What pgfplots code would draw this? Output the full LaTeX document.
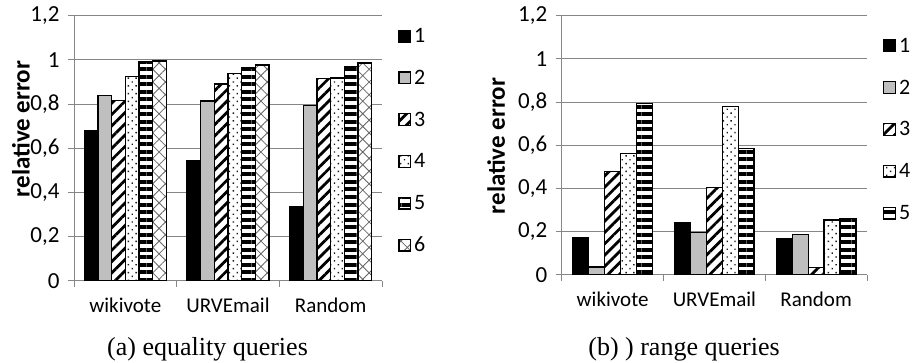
\documentclass[border=0pt]{standalone}
\usepackage{fontspec}
\setmainfont{Carlito}
\newfontfamily\capfont{Liberation Serif}
\usepackage{pgfplots}
\pgfplotsset{compat=1.18}
\usetikzlibrary{patterns.meta}

\definecolor{axisgray}{RGB}{134,134,134}
\definecolor{bargray}{RGB}{191,191,191}

\pgfplotsset{
  s1/.style={draw=black, line width=1.3pt, fill=black},
  s2/.style={draw=black, line width=1.3pt, fill=bargray},
  s3/.style={draw=black, line width=1.3pt, preaction={fill=white},
    pattern={Lines[angle=45, distance=8pt, line width=2.8pt]}, pattern color=black},
  s4/.style={draw=black, line width=1.3pt, preaction={fill=white},
    pattern={Dots[radius=1pt, distance=5.5pt, angle=45]}, pattern color=black!90},
  s5/.style={draw=black, line width=1.3pt, preaction={fill=white},
    pattern={Lines[angle=0, distance=7.5pt, line width=4pt]}, pattern color=black},
  s6/.style={draw=black, line width=1.3pt, preaction={fill=white},
    pattern={Hatch[angle=45, distance=9pt, line width=0.8pt]}, pattern color=black!60},
  chart/.style={
    scale only axis,
    xmin=-0.5, xmax=2.5, ymin=0, ymax=1.2,
    ybar=0pt,
    axis lines=left,
    axis line style={draw=axisgray, line width=1pt, -},
    ymajorgrids,
    grid style={draw=axisgray, line width=1pt},
    ytick={0,0.2,0.4,0.6,0.8,1,1.2},
    xtick={-0.5,0.5,1.5,2.5},
    xticklabels={wikivote,URVEmail,Random,},
    tick align=outside,
    major tick length=6pt,
    tick style={draw=axisgray, line width=1pt},
    yticklabel style={font=\fontsize{23pt}{27pt}\selectfont, xshift=-5pt,
      /pgf/number format/.cd, use comma, fixed, precision=1,
      assume math mode=true},
    xticklabel style={font=\fontsize{21pt}{25pt}\selectfont,
      anchor=north, text height=17pt, text depth=5pt, yshift=-5pt},
    ylabel={\bfseries relative error},
    ylabel style={font=\fontsize{25pt}{30pt}\selectfont, anchor=center},
    legend image code/.code={\draw[#1] (0.65pt,-4.35pt) rectangle (12.35pt,7.35pt);},
    legend cell align=left,
    legend style={draw=none, fill=none, anchor=north west, inner sep=0pt,
      font=\fontsize{22pt}{26pt}\selectfont,
      nodes={inner sep=0pt, text height=15pt, text depth=5pt},
      row sep=21.8pt, column sep=3pt},
    clip=false,
  },
}

\begin{document}
\begin{tikzpicture}
\useasboundingbox (0,0) rectangle (913pt,362pt);

% equality queries
\begin{axis}[chart,
  at={(74pt,81.3pt)}, anchor=south west,
  width=308pt, height=265pt,
  bar width=13.7pt,
  xticklabel style={xshift=51.3pt},
  ylabel style={at={(axis description cs:-0.172,0.573)}},
  legend style={at={(1.052,0.956)}},
]
\addplot[s1] coordinates {(0,0.678) (1,0.543) (2,0.335)};
\addplot[s2] coordinates {(0,0.838) (1,0.814) (2,0.794)};
\addplot[s3] coordinates {(0,0.815) (1,0.891) (2,0.915)};
\addplot[s4] coordinates {(0,0.924) (1,0.937) (2,0.918)};
\addplot[s5] coordinates {(0,0.990) (1,0.963) (2,0.969)};
\addplot[s6] coordinates {(0,0.995) (1,0.977) (2,0.986)};
\legend{1,2,3,4,5,6}
\end{axis}

% range queries
\begin{axis}[chart,
  at={(561.7pt,87.3pt)}, anchor=south west,
  width=305.3pt, height=259pt,
  bar width=15.9pt,
  xticklabel style={xshift=50.9pt},
  ylabel style={at={(axis description cs:-0.215,0.497)}},
  legend style={at={(1.052,0.917)}},
]
\addplot[s1] coordinates {(0,0.171) (1,0.242) (2,0.167)};
\addplot[s2] coordinates {(0,0.036) (1,0.196) (2,0.187)};
\addplot[s3] coordinates {(0,0.477) (1,0.403) (2,0.034)};
\addplot[s4] coordinates {(0,0.561) (1,0.778) (2,0.253)};
\addplot[s5] coordinates {(0,0.792) (1,0.585) (2,0.259)};
\legend{1,2,3,4,5}
\end{axis}

\node[anchor=base, font=\capfont\fontsize{26pt}{30pt}\selectfont] at (207.5pt,7pt) {(a) equality queries};
\node[anchor=base, font=\capfont\fontsize{26pt}{30pt}\selectfont] at (684pt,7pt) {(b) ) range queries};
\end{tikzpicture}
\end{document}
